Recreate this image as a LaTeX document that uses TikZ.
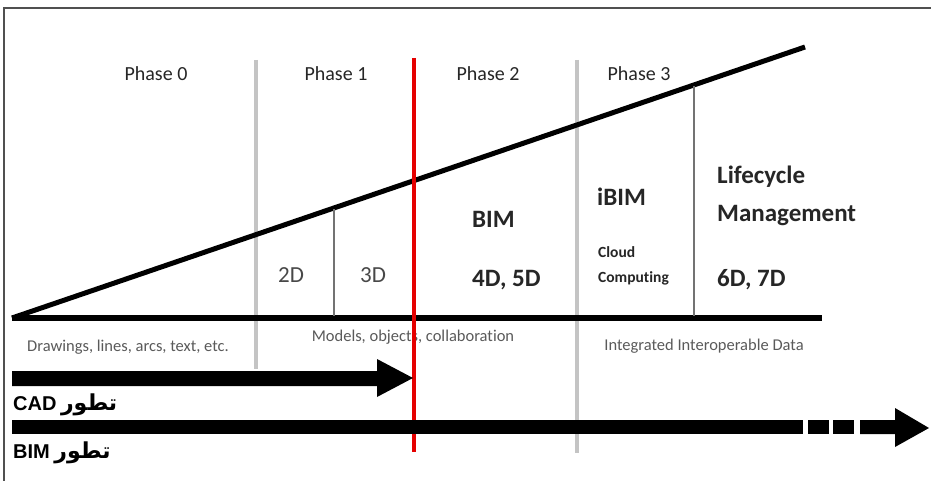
\documentclass[tikz,border=0pt]{standalone}
\usepackage{fontspec}
\setmainfont[Ligatures=NoCommon]{Carlito}
\newfontfamily\arialfont{Liberation Sans}
\newfontfamily\arabicfont[Script=Arabic]{DejaVu Sans}
\TeXXeTstate=1
\definecolor{sepgray}{HTML}{C4C4C4}
\definecolor{framegray}{HTML}{505050}
\definecolor{txtdark}{HTML}{262626}
\definecolor{txtgray}{HTML}{5A5A5A}
\tikzset{
  phase/.style={font=\fontsize{20}{22}\selectfont, text=txtdark, inner sep=0pt, anchor=base},
  bigbold/.style={font=\fontsize{25}{27}\selectfont\bfseries, text=txtdark, inner sep=0pt, anchor=base west},
  dimlabel/.style={font=\fontsize{23}{25}\selectfont, text=txtgray!80!black, inner sep=0pt, anchor=base},
  smallbold/.style={font=\fontsize{15.5}{17}\selectfont\bfseries, text=txtdark, inner sep=0pt, anchor=base west},
  note/.style={font=\fontsize{16.5}{18}\selectfont, text=txtgray, inner sep=0pt, anchor=base},
  evo/.style={font=\fontsize{20}{22}\selectfont, text=black, inner sep=0pt, anchor=base west},
  seprule/.style={draw=sepgray, line width=4pt},
  redrule/.style={draw=red!90!black, line width=3.5pt},
  thinrule/.style={draw=gray!90!black, line width=1.4pt},
  arrowbody/.style={fill=black, draw=none}
}
\begin{document}
\begin{tikzpicture}[x=1pt, y=-1pt]
\useasboundingbox (0,0) rectangle (931,481);
\fill[white] (0,0) rectangle (931,481);
% frame
\draw[framegray, line width=1.6pt] (4,481) -- (4,8) -- (931,8);

% key coordinates
\coordinate (origin) at (12,318);
\coordinate (apex) at (805,47);
\coordinate (baseend) at (822,318);

% separators
\coordinate (g1top) at (256,60);  \coordinate (g1bot) at (256,369);
\coordinate (g2top) at (577,60);  \coordinate (g2bot) at (577,453);
\coordinate (rtop) at (414,58);   \coordinate (rbot) at (414,452);
\draw[seprule] (g1top) -- (g1bot);
\draw[seprule] (g2top) -- (g2bot);

% triangle
\draw[black, line width=6pt] (origin) -- (baseend);
\draw[black, line width=5pt] (origin) -- (apex);

% thin dividers
\coordinate (t1top) at (334,209); \coordinate (t1bot) at (334,316);
\coordinate (t2top) at (694,86);  \coordinate (t2bot) at (694,316);
\draw[thinrule] (t1top) -- (t1bot);
\draw[thinrule] (t2top) -- (t2bot);

% phase labels
\node[phase] (p0) at (156,81) {Phase 0};
\node[phase] (p1) at (336,81) {Phase 1};
\node[phase] (p2) at (488,81) {Phase 2};
\node[phase] (p3) at (639,81) {Phase 3};

% stage labels
\node[dimlabel] (d2) at (291,282) {2D};
\node[dimlabel] (d3) at (373,282) {3D};
\node[bigbold] (bim) at (472,227) {BIM};
\node[bigbold] (bim45) at (472,286) {4D, 5D};
\node[bigbold] (ibim) at (597,205) {iBIM};
\node[smallbold] (cloud) at (598,257) {Cloud};
\node[smallbold] (comp) at (598,282) {Computing};
\node[bigbold] (life) at (717,184) {Lifecycle};
\node[bigbold] (mgmt) at (717,221) {Management};
\node[bigbold] (d67) at (717,286) {6D, 7D};

% notes under the baseline
\node[note] (n0) at (128,351) {Drawings, lines, arcs, text, etc.};
\node[note] (n1) at (413,341) {Models, objects, collaboration};
\node[note] (n2) at (704,350) {Integrated Interoperable Data};

% red phase line (on top)
\draw[redrule] (rtop) -- (rbot);

% CAD arrow
\coordinate (cadstart) at (12,378);
\coordinate (cadtip) at (413,378);
\fill[arrowbody] (12,371) -- (377,371) -- (377,359) -- (cadtip) -- (377,397) -- (377,386) -- (12,386) -- cycle;

% BIM arrow
\coordinate (bimstart) at (12,427);
\coordinate (bimtip) at (929,428);
\fill[arrowbody] (12,420) rectangle (803,434);
\fill[arrowbody] (808,420) rectangle (829,434);
\fill[arrowbody] (833,420) rectangle (854,434);
\fill[arrowbody] (860,420) -- (895,420) -- (895,408) -- (bimtip) -- (895,447) -- (895,434) -- (860,434) -- cycle;

% evolution labels
\node[evo] (cadlbl) at (13,410) {{\arialfont\bfseries CAD} {\arabicfont\bfseries\fontsize{22}{24}\selectfont\beginR تطور\endR}};
\node[evo] (bimlbl) at (13,458) {{\arialfont\bfseries BIM} {\arabicfont\bfseries\fontsize{22}{24}\selectfont\beginR تطور\endR}};
\end{tikzpicture}
\end{document}
